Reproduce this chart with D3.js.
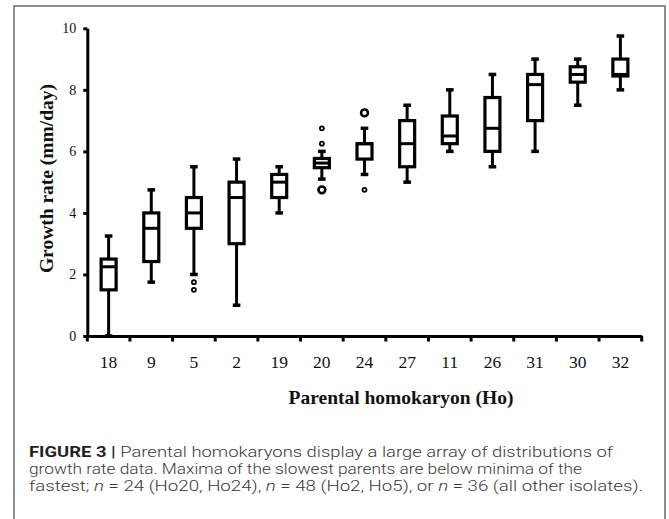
<!DOCTYPE html>
<html>
<head>
<meta charset="utf-8">
<script src="https://cdn.jsdelivr.net/npm/d3@7"></script>
<style>
body{margin:0;background:#fff;}
svg{display:block;}
</style>
</head>
<body>
<div id="chart"></div>
<script>
// growth rate per parental homokaryon (mm/day)
var parents=["18","9","5","2","19","20","24","27","11","26","31","30","32"];
var lowWhisker=[0,1.75,2,1,4,5.1,5.25,5,6,5.5,6,7.5,8];
var q1=[1.5,2.42,3.5,3,4.5,5.47,5.75,5.5,6.25,6,7,8.25,8.45];
var medians=[2.25,3.5,4,4.5,5,5.62,6.25,6.25,6.5,6.75,8.17,8.5,8.5];
var q3=[2.5,4,4.5,5,5.25,5.77,6.25,7,7.15,7.75,8.5,8.75,9];
var highWhisker=[3.25,4.75,5.5,5.75,5.5,6,6.75,7.5,8,8.5,9,9,9.75];

// outliers: parent, value, number of isolates at that value
var outlierParent=["5","5","20","20","20","24","24"];
var outlierValue=[1.75,1.5,6.75,6.25,4.75,7.25,4.75];
var outlierCount=[1,1,1,1,2,2,1];

var yTicks=[0,2,4,6,8,10];

var W=669,H=519;
var svg=d3.select('#chart').append('svg').attr('width',W).attr('height',H);

// frame round figure + caption
svg.append('rect').attr('x',14).attr('y',6).attr('width',651).attr('height',530)
	.attr('fill','none').attr('stroke','#6b6b6b').attr('stroke-width',1.5);

var y=d3.scaleLinear().domain([0,10]).range([336,28.3]);
var x=d3.scaleBand().domain(parents).range([87.3,641.7]);
var bw=15;

var boxes=parents.map(function(p,i){
	return {p:p,lo:lowWhisker[i],q1:q1[i],med:medians[i],q3:q3[i],hi:highWhisker[i]};
});

//---------------------axes---------------------------------------------------
var yAxis=svg.append('g').attr('transform','translate(87.3,0)')
	.call(d3.axisLeft(y).tickValues(yTicks).tickSize(4).tickSizeOuter(0).tickPadding(7));
yAxis.select('.domain').attr('stroke','#000').attr('stroke-width',3);
yAxis.selectAll('.tick line').attr('stroke','#000').attr('stroke-width',3);
yAxis.selectAll('.tick text').attr('font-family','"Liberation Serif", serif').attr('font-size',14).attr('fill','#111');

var xAxis=svg.append('g').attr('transform','translate(0,336)')
	.call(d3.axisBottom(x).tickSize(0).tickSizeOuter(0).tickPadding(20));
xAxis.select('.domain').attr('stroke','#000').attr('stroke-width',3);
xAxis.selectAll('.tick text').attr('font-family','"Liberation Serif", serif').attr('font-size',17.5).attr('fill','#111');

// ticks sit between categories
var edges=parents.map(function(p){return x(p);}).concat([x.range()[1]]);
xAxis.selectAll('line.edge').data(edges).enter().append('line').attr('class','edge')
	.attr('x1',function(d){return d;}).attr('x2',function(d){return d;})
	.attr('y1',0).attr('y2',5.5).attr('stroke','#000').attr('stroke-width',3);

//---------------------boxes---------------------------------------------------
var g=svg.append('g').attr('stroke','#000').attr('fill','#fff');
var cx=function(d){return x(d.p)+x.bandwidth()/2;};

g.selectAll('line.whisker').data(boxes).enter().append('line')
	.attr('x1',cx).attr('x2',cx)
	.attr('y1',function(d){return y(d.lo);}).attr('y2',function(d){return y(d.hi);})
	.attr('stroke-width',3);

['lo','hi'].forEach(function(k){
	g.selectAll('line.cap'+k).data(boxes).enter().append('line')
		.attr('x1',function(d){return cx(d)-3.8;}).attr('x2',function(d){return cx(d)+3.8;})
		.attr('y1',function(d){return y(d[k]);}).attr('y2',function(d){return y(d[k]);})
		.attr('stroke-width',3.5);
});

g.selectAll('rect.box').data(boxes).enter().append('rect')
	.attr('x',function(d){return cx(d)-bw/2;}).attr('width',bw)
	.attr('y',function(d){return y(d.q3);})
	.attr('height',function(d){return y(d.q1)-y(d.q3);})
	.attr('stroke-width',3.2);

g.selectAll('line.median').data(boxes).enter().append('line')
	.attr('x1',function(d){return cx(d)-bw/2;}).attr('x2',function(d){return cx(d)+bw/2;})
	.attr('y1',function(d){return y(d.med);}).attr('y2',function(d){return y(d.med);})
	.attr('stroke-width',3);

var outs=outlierParent.map(function(p,i){return {p:p,v:outlierValue[i],n:outlierCount[i]};});
g.selectAll('circle.out').data(outs).enter().append('circle')
	.attr('cx',cx).attr('cy',function(d){return y(d.v);})
	.attr('r',function(d){return d.n>1?3.4:2;})
	.attr('stroke-width',function(d){return d.n>1?2.6:1.8;});

//---------------------titles---------------------------------------------------
svg.append('text').attr('transform','translate(53,178.5) rotate(-90)')
	.attr('text-anchor','middle').attr('font-family','"Liberation Serif", serif')
	.attr('font-weight','bold').attr('font-size',19.5).attr('fill','#111')
	.text('Growth rate (mm/day)');

svg.append('text').attr('x',401).attr('y',404)
	.attr('text-anchor','middle').attr('font-family','"Liberation Serif", serif')
	.attr('font-weight','bold').attr('font-size',19.5).attr('fill','#111')
	.text('Parental homokaryon (Ho)');

//---------------------caption---------------------------------------------------
var cap=svg.append('g').attr('font-family','Roboto, "Liberation Sans", sans-serif')
	.attr('font-size',15).attr('font-weight',300).attr('fill','#3a3a3a');

var l1=cap.append('text').attr('x',29).attr('y',456.5).attr('textLength',584).attr('lengthAdjust','spacingAndGlyphs');
l1.append('tspan').attr('font-weight','bold').attr('fill','#231f20').text('FIGURE 3 | ');
l1.append('tspan').text('Parental homokaryons display a large array of distributions of');

cap.append('text').attr('x',29).attr('y',473.5).attr('textLength',553).attr('lengthAdjust','spacingAndGlyphs')
	.text('growth rate data. Maxima of the slowest parents are below minima of the');

var l3=cap.append('text').attr('x',29).attr('y',490.5).attr('textLength',614).attr('lengthAdjust','spacingAndGlyphs');
l3.append('tspan').text('fastest; ');
l3.append('tspan').attr('font-style','italic').text('n');
l3.append('tspan').text(' = 24 (Ho20, Ho24), ');
l3.append('tspan').attr('font-style','italic').text('n');
l3.append('tspan').text(' = 48 (Ho2, Ho5), or ');
l3.append('tspan').attr('font-style','italic').text('n');
l3.append('tspan').text(' = 36 (all other isolates).');
</script>
</body>
</html>
